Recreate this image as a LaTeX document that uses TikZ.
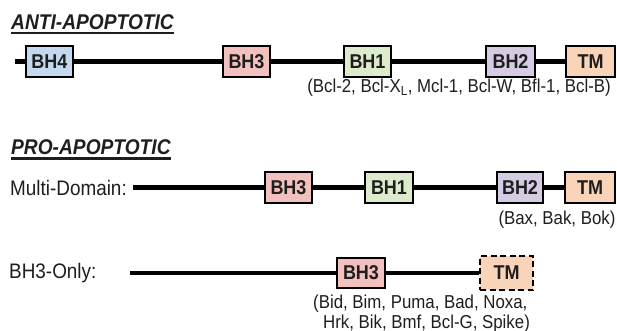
\documentclass[tikz,border=0pt]{standalone}
\usepackage{fontspec}
\setmainfont{Liberation Sans}[FakeStretch=0.9]
\definecolor{txt}{HTML}{1E1E1E}
\definecolor{cbhfour}{HTML}{C5D9EE}
\definecolor{cbhthree}{HTML}{F3C0C0}
\definecolor{cbhone}{HTML}{DDEBCD}
\definecolor{cbhtwo}{HTML}{D5CBE3}
\definecolor{ctm}{HTML}{F9D4B8}
\newcommand\hdul[1]{\setbox0\hbox{#1}\rlap{\rule[-5pt]{\wd0}{2.2pt}}\box0}
\begin{document}
\begin{tikzpicture}[x=1pt,y=-1pt,
  dbox/.style={draw=black,line width=1.6pt,inner sep=0pt,minimum height=31pt,
    font=\fontsize{20}{22}\selectfont\bfseries,text=txt},
  bb/.style={line width=4.2pt,black},
  head/.style={anchor=base west,inner sep=0pt,font=\fontsize{21.3}{22}\selectfont\bfseries\itshape,text=txt},
  rowlab/.style={anchor=west,inner sep=0pt,font=\fontsize{21}{23}\selectfont,text=txt},
  members/.style={inner sep=0pt,font=\fontsize{18.7}{19}\selectfont,text=txt}]
\useasboundingbox (0,0) rectangle (617,331);
% Anti-apoptotic
\node[head] (t1) at (11,29.5) {\hdul{ANTI-APOPTOTIC}};
\coordinate (s1) at (15,61.5);
\node[dbox,fill=cbhfour,minimum width=47pt] (a4) at (49.5,61.5) {BH4};
\node[dbox,fill=cbhthree,minimum width=47pt] (a3) at (246.5,61.5) {BH3};
\node[dbox,fill=cbhone,minimum width=47pt] (a1) at (367.5,61.5) {BH1};
\node[dbox,fill=cbhtwo,minimum width=49pt] (a2) at (510.5,61.5) {BH2};
\node[dbox,fill=ctm,minimum width=49pt] (atm) at (590.5,61.5) {TM};
\draw[bb] (s1) -- (a4.west);
\draw[bb] (a4.east) -- (a3.west);
\draw[bb] (a3.east) -- (a1.west);
\draw[bb] (a1.east) -- (a2.west);
\draw[bb] (a2.east) -- (atm.west);
\node[members] (l1) at (459,88) {(Bcl-2, Bcl-X\textsubscript{L}, Mcl-1, Bcl-W, Bfl-1, Bcl-B)};
% Pro-apoptotic
\node[head] (t2) at (11,154.5) {\hdul{PRO-APOPTOTIC}};
\node[rowlab] (md) at (10,188) {Multi-Domain:};
\coordinate (s2) at (133,187.5);
\node[dbox,fill=cbhthree,minimum width=47pt] (m3) at (288.5,187.5) {BH3};
\node[dbox,fill=cbhone,minimum width=48pt] (m1) at (389,187.5) {BH1};
\node[dbox,fill=cbhtwo,minimum width=46pt] (m2) at (520,187.5) {BH2};
\node[dbox,fill=ctm,minimum width=50pt] (mtm) at (590,187.5) {TM};
\draw[bb] (s2) -- (m3.west);
\draw[bb] (m3.east) -- (m1.west);
\draw[bb] (m1.east) -- (m2.west);
\draw[bb] (m2.east) -- (mtm.west);
\node[members] (l2) at (557,220) {(Bax, Bak, Bok)};
% BH3-only
\node[rowlab] (bo) at (9,273) {BH3-Only:};
\coordinate (s3) at (130,273);
\node[dbox,fill=cbhthree,minimum width=48pt,minimum height=30pt] (o3) at (361,273) {BH3};
\node[dbox,fill=ctm,minimum width=53pt,minimum height=34pt,dash pattern=on 6pt off 3.5pt] (otm) at (506.5,273) {TM};
\draw[bb] (s3) -- (o3.west);
\draw[bb] (o3.east) -- (otm.west);
\node[members,anchor=north west,align=left] (l3) at (313,294.5) {(Bid, Bim, Puma, Bad, Noxa,\\[1pt]\hspace*{10pt}Hrk, Bik, Bmf, Bcl-G, Spike)};
\end{tikzpicture}
\end{document}
